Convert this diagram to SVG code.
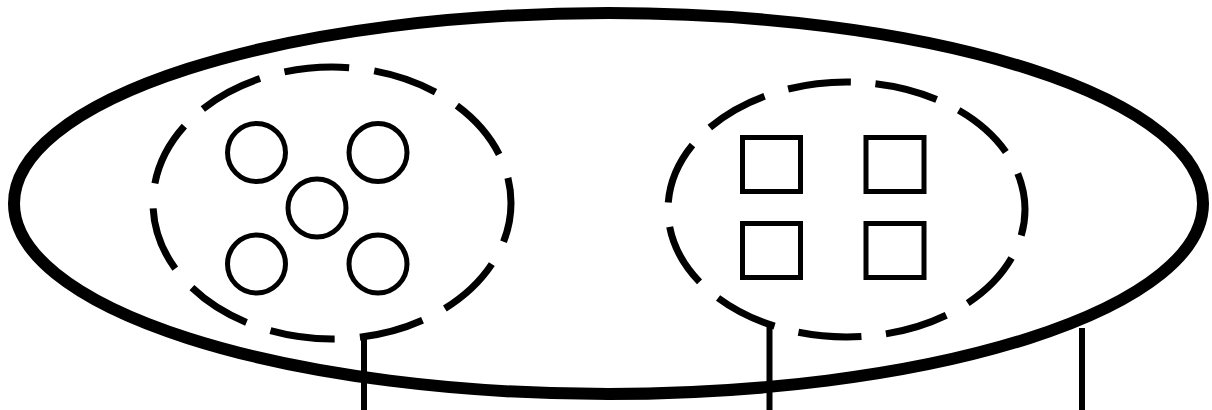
<svg xmlns="http://www.w3.org/2000/svg" width="1212" height="410" viewBox="0 0 1212 410">
<style>
.outer{fill:none;stroke:#000;stroke-width:12}
.group{fill:none;stroke:#000;stroke-width:7;stroke-dasharray:72 28}
.item{fill:#fff;stroke:#000;stroke-width:5}
.conn{stroke:#000;stroke-width:6;fill:none}
</style>
<rect width="1212" height="410" fill="#fff"/>
<g id="system">
<ellipse class="outer" cx="608.5" cy="203.5" rx="594.5" ry="190.5"/>
</g>
<g id="groupA">
<path class="group" pathLength="1100" style="stroke-dashoffset:28" d="M511,203 A179 136 0 0 1 153,203 A179 136 0 0 1 511,203 Z"/>
</g>
<g id="circle1"><circle class="item" cx="256.5" cy="152.5" r="29"/></g>
<g id="circle2"><circle class="item" cx="378" cy="152.5" r="29"/></g>
<g id="circle3"><circle class="item" cx="317" cy="208" r="29"/></g>
<g id="circle4"><circle class="item" cx="256.5" cy="264" r="29"/></g>
<g id="circle5"><circle class="item" cx="378" cy="264" r="29"/></g>
<g id="groupB">
<path class="group" pathLength="1100" style="stroke-dashoffset:42" d="M1025,209.5 A178.5 127.5 0 0 1 668,209.5 A178.5 127.5 0 0 1 1025,209.5 Z"/>
</g>
<g id="square1"><rect class="item" x="742.5" y="137.5" width="58" height="54"/></g>
<g id="square2"><rect class="item" x="866" y="137.5" width="58" height="54"/></g>
<g id="square3"><rect class="item" x="742.5" y="223.5" width="58" height="54"/></g>
<g id="square4"><rect class="item" x="866" y="223.5" width="58" height="54"/></g>
<g id="connectors">
<line class="conn" x1="364" y1="336" x2="364" y2="410"/>
<line class="conn" x1="769.5" y1="325" x2="769.5" y2="410"/>
<line class="conn" x1="1082" y1="328" x2="1082" y2="410"/>
</g>
</svg>
